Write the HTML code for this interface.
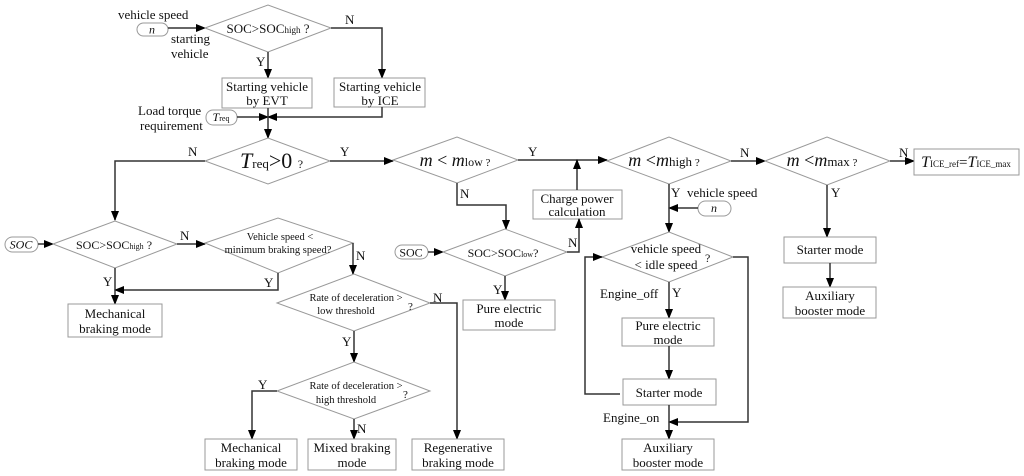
<!DOCTYPE html>
<html><head><meta charset="utf-8"><style>
html,body{margin:0;padding:0;background:#fff}
svg{display:block}
text{font-family:"Liberation Serif",serif;fill:#111}
.d{fill:#fff;stroke:#999;stroke-width:1}
.b{fill:#fff;stroke:#999;stroke-width:1}
.l{fill:none;stroke:#333;stroke-width:1.5}
</style></head><body>
<svg width="1024" height="476" viewBox="0 0 1024 476" xmlns="http://www.w3.org/2000/svg">
<defs><marker id="a" markerWidth="10" markerHeight="8" refX="9" refY="4" orient="auto" markerUnits="userSpaceOnUse"><path d="M0,0 L10,4 L0,8 z" fill="#000"/></marker></defs>

<!-- top -->
<text x="118" y="19" font-size="13">vehicle speed</text>
<rect x="137" y="23" width="31" height="13" rx="6.5" class="b"/>
<text x="152" y="33.5" font-size="12" font-style="italic" text-anchor="middle">n</text>
<text x="171" y="43" font-size="13">starting</text>
<text x="171" y="58" font-size="13">vehicle</text>
<path class="l" d="M168,28 H205" marker-end="url(#a)"/>
<polygon class="d" points="205,28 268,5 331,28 268,52"/>
<text x="268" y="33" font-size="13" text-anchor="middle">SOC&gt;SOC<tspan font-size="9">high</tspan> ?</text>
<text x="345" y="24" font-size="13">N</text>
<path class="l" d="M331,28 H382 V78" marker-end="url(#a)"/>
<text x="256" y="66" font-size="13">Y</text>
<path class="l" d="M268,52 V78" marker-end="url(#a)"/>
<rect x="222" y="78" width="90" height="30" class="b"/>
<text x="267" y="91" font-size="13" text-anchor="middle">Starting vehicle</text>
<text x="267" y="105" font-size="13" text-anchor="middle">by EVT</text>
<rect x="334" y="78" width="91" height="29" class="b"/>
<text x="380" y="91" font-size="13" text-anchor="middle">Starting vehicle</text>
<text x="380" y="105" font-size="13" text-anchor="middle">by ICE</text>
<text x="138" y="115" font-size="13">Load torque</text>
<text x="140" y="130" font-size="13">requirement</text>
<rect x="206" y="110" width="31" height="15" rx="7" class="b"/>
<text x="221" y="121" font-size="12" text-anchor="middle"><tspan font-style="italic">T</tspan><tspan font-size="8">req</tspan></text>
<path class="l" d="M237,117 H268" marker-end="url(#a)"/>
<path class="l" d="M382,107 V117 H268" marker-end="url(#a)"/>
<path class="l" d="M268,108 V138" marker-end="url(#a)"/>

<!-- Treq>0 -->
<polygon class="d" points="205,161 268,138 330,161 268,184"/>
<text x="240" y="168" font-size="22"><tspan font-style="italic">T</tspan><tspan font-size="13">req</tspan>&gt;0 <tspan font-size="12">?</tspan></text>
<text x="188" y="156" font-size="13">N</text>
<path class="l" d="M205,161 H115 V220" marker-end="url(#a)"/>
<text x="340" y="156" font-size="13">Y</text>
<path class="l" d="M330,161 H393" marker-end="url(#a)"/>

<!-- m<mlow -->
<polygon class="d" points="393,160 457,137 518,160 457,183"/>
<text x="455" y="166" font-size="18" text-anchor="middle"><tspan font-style="italic">m</tspan> &lt; <tspan font-style="italic">m</tspan><tspan font-size="12">low</tspan><tspan font-size="11"> ?</tspan></text>
<text x="528" y="156" font-size="13">Y</text>
<path class="l" d="M518,160 H607" marker-end="url(#a)"/>
<text x="460" y="198" font-size="13">N</text>
<path class="l" d="M457,183 V205 H506 V229" marker-end="url(#a)"/>
<rect x="533" y="190" width="89" height="29" class="b"/>
<text x="577" y="203" font-size="13" text-anchor="middle">Charge power</text>
<text x="577" y="216" font-size="13" text-anchor="middle">calculation</text>
<path class="l" d="M577,190 V160" marker-end="url(#a)"/>
<rect x="395" y="245" width="33" height="14" rx="7" class="b"/>
<text x="411" y="256.5" font-size="12" text-anchor="middle">SOC</text>
<path class="l" d="M428,252 H443" marker-end="url(#a)"/>
<polygon class="d" points="443,252 505,229 567,252 505,276"/>
<text x="503" y="257" font-size="12" text-anchor="middle">SOC&gt;SOC<tspan font-size="8">low</tspan>?</text>
<text x="568" y="247" font-size="13">N</text>
<path class="l" d="M567,252 H579 V219" marker-end="url(#a)"/>
<text x="493" y="294" font-size="13">Y</text>
<path class="l" d="M505,276 V300" marker-end="url(#a)"/>
<rect x="463" y="300" width="92" height="30" class="b"/>
<text x="509" y="313" font-size="13" text-anchor="middle">Pure electric</text>
<text x="509" y="327" font-size="13" text-anchor="middle">mode</text>

<!-- m<mhigh -->
<polygon class="d" points="607,161 669,137 731,161 669,184"/>
<text x="664" y="166" font-size="18" text-anchor="middle"><tspan font-style="italic">m</tspan> &lt;<tspan font-style="italic">m</tspan><tspan font-size="13">high</tspan><tspan font-size="11"> ?</tspan></text>
<text x="740" y="157" font-size="13">N</text>
<path class="l" d="M731,161 H765" marker-end="url(#a)"/>
<polygon class="d" points="765,161 827,137 890,161 827,185"/>
<text x="822" y="166" font-size="18" text-anchor="middle"><tspan font-style="italic">m</tspan> &lt;<tspan font-style="italic">m</tspan><tspan font-size="13">max</tspan><tspan font-size="11"> ?</tspan></text>
<text x="899" y="157" font-size="13">N</text>
<path class="l" d="M890,161 H914" marker-end="url(#a)"/>
<rect x="914" y="149" width="105" height="26" class="b"/>
<text x="966" y="167" font-size="12" text-anchor="middle"><tspan font-size="16" font-style="italic">T</tspan><tspan font-size="9">ICE_ref</tspan><tspan font-size="15">=</tspan><tspan font-size="16" font-style="italic">T</tspan><tspan font-size="9">ICE_max</tspan></text>
<text x="831" y="197" font-size="13">Y</text>
<path class="l" d="M827,185 V237" marker-end="url(#a)"/>
<rect x="784" y="237" width="92" height="26" class="b"/>
<text x="830" y="254" font-size="13" text-anchor="middle">Starter mode</text>
<path class="l" d="M830,263 V287" marker-end="url(#a)"/>
<rect x="783" y="287" width="93" height="31" class="b"/>
<text x="830" y="300" font-size="13" text-anchor="middle">Auxiliary</text>
<text x="830" y="315" font-size="13" text-anchor="middle">booster mode</text>

<!-- idle speed section -->
<text x="671" y="197" font-size="13">Y</text>
<text x="687" y="197" font-size="13">vehicle speed</text>
<rect x="698" y="201" width="33" height="15" rx="7.5" class="b"/>
<text x="714" y="212" font-size="12" font-style="italic" text-anchor="middle">n</text>
<path class="l" d="M698,208 H669" marker-end="url(#a)"/>
<path class="l" d="M669,184 V232" marker-end="url(#a)"/>
<polygon class="d" points="602,257 669,232 733,257 669,282"/>
<text x="666" y="253" font-size="13" text-anchor="middle">vehicle speed</text>
<text x="666" y="269" font-size="13" text-anchor="middle">&lt; idle speed</text>
<text x="705" y="262" font-size="12">?</text>
<text x="600" y="298" font-size="13">Engine_off</text>
<text x="672" y="297" font-size="13">Y</text>
<path class="l" d="M669,282 V318" marker-end="url(#a)"/>
<rect x="622" y="318" width="92" height="28" class="b"/>
<text x="668" y="330" font-size="13" text-anchor="middle">Pure electric</text>
<text x="668" y="344" font-size="13" text-anchor="middle">mode</text>
<path class="l" d="M669,346 V379" marker-end="url(#a)"/>
<rect x="623" y="379" width="93" height="26" class="b"/>
<text x="669" y="397" font-size="13" text-anchor="middle">Starter mode</text>
<path class="l" d="M620,394 H585 V257 H602" marker-end="url(#a)"/>
<path class="l" d="M733,257 H748 V422 H669" marker-end="url(#a)"/>
<text x="603" y="422" font-size="13">Engine_on</text>
<path class="l" d="M669,405 V439" marker-end="url(#a)"/>
<rect x="622" y="439" width="92" height="31" class="b"/>
<text x="668" y="452" font-size="13" text-anchor="middle">Auxiliary</text>
<text x="668" y="467" font-size="13" text-anchor="middle">booster mode</text>

<!-- braking -->
<rect x="5" y="237" width="33" height="15" rx="7.5" class="b"/>
<text x="21" y="248.5" font-size="12" font-style="italic" text-anchor="middle">SOC</text>
<path class="l" d="M38,244 H53" marker-end="url(#a)"/>
<polygon class="d" points="53,244 115,221 177,244 115,268"/>
<text x="114" y="249" font-size="12" text-anchor="middle">SOC&gt;SOC<tspan font-size="8">high</tspan> ?</text>
<text x="180" y="240" font-size="13">N</text>
<path class="l" d="M177,244 H205" marker-end="url(#a)"/>
<polygon class="d" points="205,243 278,218 353,243 278,273"/>
<text x="280" y="240" font-size="10.5" text-anchor="middle">Vehicle speed &lt;</text>
<text x="278" y="253" font-size="10.5" text-anchor="middle">minimum braking speed?</text>
<text x="264" y="287" font-size="13">Y</text>
<path class="l" d="M278,273 V290 H115" marker-end="url(#a)"/>
<text x="103" y="286" font-size="13">Y</text>
<path class="l" d="M115,268 V304" marker-end="url(#a)"/>
<rect x="68" y="304" width="94" height="33" class="b"/>
<text x="115" y="318" font-size="13" text-anchor="middle">Mechanical</text>
<text x="115" y="333" font-size="13" text-anchor="middle">braking mode</text>
<text x="356" y="260" font-size="13">N</text>
<path class="l" d="M353,243 V274" marker-end="url(#a)"/>
<polygon class="d" points="277,303 354,274 430,303 354,331"/>
<text x="356" y="301" font-size="10.5" text-anchor="middle">Rate of deceleration &gt;</text>
<text x="346" y="314" font-size="10.5" text-anchor="middle">low threshold</text>
<text x="408" y="310" font-size="11">?</text>
<text x="433" y="302" font-size="13">N</text>
<path class="l" d="M430,303 H457 V439" marker-end="url(#a)"/>
<text x="342" y="346" font-size="13">Y</text>
<path class="l" d="M354,331 V362" marker-end="url(#a)"/>
<polygon class="d" points="277,391 354,362 430,391 354,419"/>
<text x="356" y="389" font-size="10.5" text-anchor="middle">Rate of deceleration &gt;</text>
<text x="346" y="403" font-size="10.5" text-anchor="middle">high threshold</text>
<text x="403" y="398" font-size="11">?</text>
<text x="258" y="389" font-size="13">Y</text>
<path class="l" d="M277,391 H252 V439" marker-end="url(#a)"/>
<text x="357" y="433" font-size="13">N</text>
<path class="l" d="M354,419 V439" marker-end="url(#a)"/>
<rect x="205" y="439" width="92" height="31" class="b"/>
<text x="251" y="452" font-size="13" text-anchor="middle">Mechanical</text>
<text x="251" y="467" font-size="13" text-anchor="middle">braking mode</text>
<rect x="308" y="439" width="88" height="31" class="b"/>
<text x="352" y="452" font-size="13" text-anchor="middle">Mixed braking</text>
<text x="352" y="467" font-size="13" text-anchor="middle">mode</text>
<rect x="412" y="439" width="92" height="31" class="b"/>
<text x="458" y="452" font-size="13" text-anchor="middle">Regenerative</text>
<text x="458" y="467" font-size="13" text-anchor="middle">braking mode</text>
</svg>
</body></html>
